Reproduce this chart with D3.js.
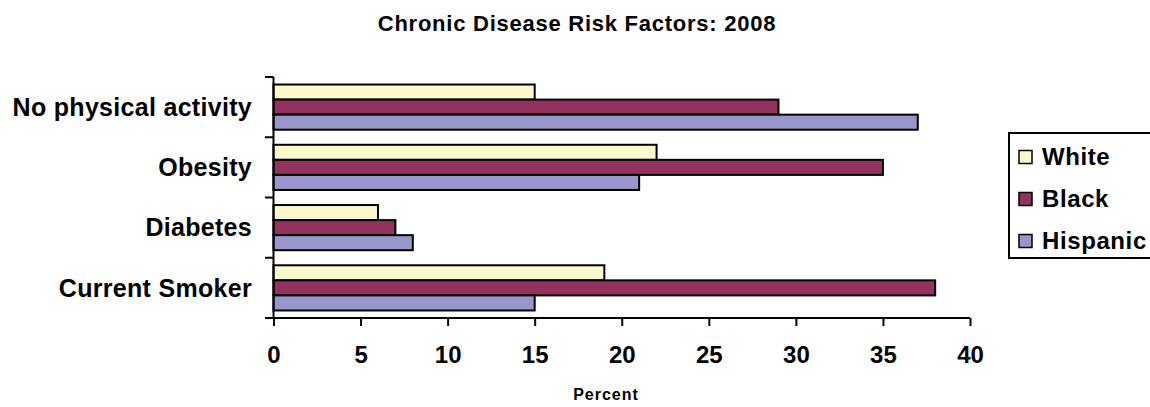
<!DOCTYPE html>
<html>
<head>
<meta charset="utf-8">
<script src="https://cdn.jsdelivr.net/npm/d3@7"></script>
<style>
  html, body { margin: 0; padding: 0; background: #fff; }
  svg { display: block; font-family: "Liberation Sans", Arial, sans-serif; font-weight: bold; }
</style>
</head>
<body>
<svg id="chart" width="1150" height="407"></svg>
<script>
// Risk factor categories, top to bottom
const categories = ["No physical activity", "Obesity", "Diabetes", "Current Smoker"];
const seriesNames = ["White", "Black", "Hispanic"];
const white    = [15, 22, 6, 19];
const black    = [29, 35, 7, 38];
const hispanic = [37, 21, 8, 15];
const xTicks = [0, 5, 10, 15, 20, 25, 30, 35, 40];
const colors = ["#fbf8cc", "#93325f", "#9896ca"];

const seriesValues = [white, black, hispanic];
const rows = categories.map((c, i) => ({
  category: c,
  values: seriesNames.map((s, k) => ({ series: s, value: seriesValues[k][i] }))
}));

const svg = d3.select("#chart");
const plot = { left: 273.5, right: 970, top: 77, bottom: 318 };

const x = d3.scaleLinear().domain([0, 40]).range([plot.left, plot.right]);
const y = d3.scaleBand().domain(categories).range([plot.top, plot.bottom]).paddingInner(0).paddingOuter(0);
const inner = d3.scaleBand().domain(seriesNames).range([0, y.bandwidth()]).paddingInner(0).paddingOuter(0.5);

// Title
svg.append("text")
  .attr("x", 577).attr("y", 31)
  .attr("text-anchor", "middle")
  .style("font-size", "22px")
  .style("letter-spacing", "0.75px")
  .text("Chronic Disease Risk Factors: 2008");

// Bars
const groups = svg.append("g").selectAll("g")
  .data(rows).join("g")
  .attr("transform", d => `translate(0,${y(d.category)})`);

groups.selectAll("rect")
  .data(d => d.values).join("rect")
  .attr("x", x(0))
  .attr("y", d => inner(d.series))
  .attr("width", d => x(d.value) - x(0))
  .attr("height", inner.bandwidth())
  .attr("fill", (d, i) => colors[i])
  .attr("stroke", "#000")
  .attr("stroke-width", 2);

// Category axis
const yAxis = svg.append("g")
  .attr("transform", `translate(${plot.left},0)`);
yAxis.append("line")
  .attr("x1", 0).attr("x2", 0)
  .attr("y1", plot.top).attr("y2", plot.bottom)
  .attr("stroke", "#000").attr("stroke-width", 2);
yAxis.selectAll("line.tick")
  .data(categories.map(c => y(c)).concat([plot.bottom]))
  .join("line").attr("class", "tick")
  .attr("x1", -8.5).attr("x2", 0)
  .attr("y1", d => d).attr("y2", d => d)
  .attr("stroke", "#000").attr("stroke-width", 2);
yAxis.selectAll("text")
  .data(categories).join("text")
  .attr("x", 252 - plot.left)
  .attr("y", d => y(d) + y.bandwidth() / 2)
  .attr("dy", "0.35em")
  .attr("text-anchor", "end")
  .style("font-size", "25px")
  .style("letter-spacing", "0.3px")
  .text(d => d);

// Value axis
const xAxis = svg.append("g")
  .attr("transform", `translate(0,${plot.bottom})`)
  .call(d3.axisBottom(x).tickValues(xTicks).tickSize(8).tickPadding(20).tickSizeOuter(0));
xAxis.select(".domain").attr("stroke", "#000").attr("stroke-width", 2)
  .attr("d", `M${plot.left - 8.5},0H${plot.right}`);
xAxis.selectAll(".tick line").attr("stroke", "#000").attr("stroke-width", 2);
xAxis.selectAll(".tick text")
  .attr("fill", "#000")
  .style("font-family", "'Liberation Sans', Arial, sans-serif")
  .style("font-weight", "bold")
  .style("font-size", "24px");

svg.append("text")
  .attr("x", 606).attr("y", 400)
  .attr("text-anchor", "middle")
  .style("font-size", "16px")
  .style("letter-spacing", "1px")
  .text("Percent");

// Legend
const legend = svg.append("g").attr("transform", "translate(1009,133)");
legend.append("rect")
  .attr("x", 0).attr("y", 0).attr("width", 150).attr("height", 125)
  .attr("fill", "#fff").attr("stroke", "#000").attr("stroke-width", 2);
const items = legend.selectAll("g.item")
  .data(seriesNames).join("g").attr("class", "item")
  .attr("transform", (d, i) => `translate(10,${24 + i * 42})`);
items.append("rect")
  .attr("x", 0).attr("y", -6.5).attr("width", 13).attr("height", 13)
  .attr("fill", (d, i) => colors[i])
  .attr("stroke", "#000").attr("stroke-width", 1.5);
items.append("text")
  .attr("x", 23).attr("y", 0).attr("dy", "0.35em")
  .style("font-size", "24px")
  .style("letter-spacing", "0.6px")
  .text(d => d);
</script>
</body>
</html>
